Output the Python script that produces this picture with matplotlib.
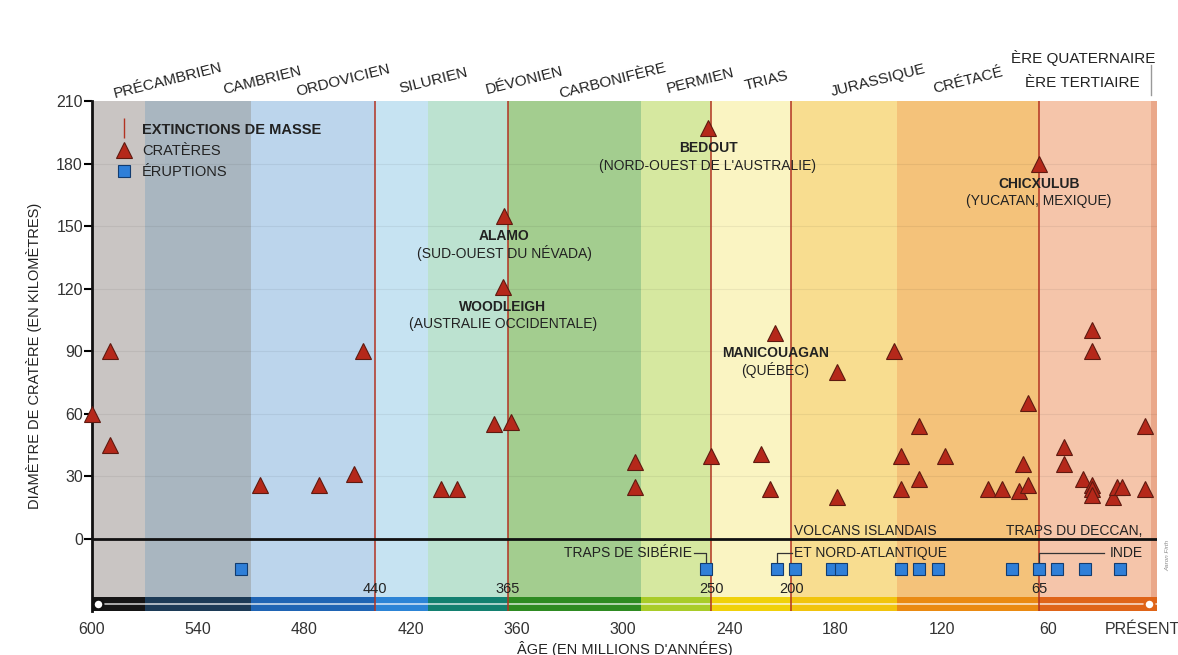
import matplotlib
matplotlib.use('Agg')
import numpy as np
import matplotlib.pyplot as plt
import matplotlib.transforms as mtransforms
from matplotlib.lines import Line2D

plt.rcParams['font.family'] = ['Liberation Sans', 'DejaVu Sans']

# --- data -------------------------------------------------------------------
period_names = ['PRÉCAMBRIEN', 'CAMBRIEN', 'ORDOVICIEN', 'SILURIEN', 'DÉVONIEN',
                'CARBONIFÈRE', 'PERMIEN', 'TRIAS', 'JURASSIQUE', 'CRÉTACÉ',
                'ÈRE TERTIAIRE', 'ÈRE QUATERNAIRE']
period_start = [600, 570, 510, 440, 410, 365, 290, 250, 205, 145, 65, 1.8]

extinction_ages = [440, 365, 250, 205, 65]
extinction_labels = ['440', '365', '250', '200', '65']

crater_age = [600, 590, 590, 505, 472, 452, 447, 403, 394, 373, 363, 367, 368,
              293, 293, 252, 250, 222, 217, 214, 179, 179, 147, 143, 143, 133,
              133, 118, 94, 86, 76, 74, 71, 71, 65, 51, 51, 40, 35, 35, 35, 35,
              35, 23, 21, 18, 5, 5]
crater_km = [60, 90, 45, 26, 26, 31, 90, 24, 24, 55, 56, 155, 121,
             37, 25, 197, 40, 41, 24, 99, 80, 20, 90, 40, 24, 54,
             29, 40, 24, 24, 23, 36, 26, 65, 180, 44, 36, 29, 100, 90, 26, 24,
             21, 20, 25, 25, 54, 24]

eruption_age = [516, 253, 213, 203, 182, 177, 143, 133, 122, 80, 65, 55, 39, 19]

named_age = [367, 368, 252, 214, 65]
named_km = [155, 121, 197, 99, 180]
named_title = ['ALAMO', 'WOODLEIGH', 'BEDOUT', 'MANICOUAGAN', 'CHICXULUB']
named_place = ['(SUD-OUEST DU NÉVADA)', '(AUSTRALIE OCCIDENTALE)',
               "(NORD-OUEST DE L'AUSTRALIE)", '(QUÉBEC)', '(YUCATAN, MEXIQUE)']

xtick_values = [600, 540, 480, 420, 360, 300, 240, 180, 120, 60, 0]
xtick_labels = ['600', '540', '480', '420', '360', '300', '240', '180', '120', '60', 'PRÉSENT']
ytick_values = [0, 30, 60, 90, 120, 150, 180, 210]

# --- styles -------------------------------------------------------------------
band_colors = ['#c9c5c3', '#a9b6c0', '#bcd5ec', '#c6e3f2', '#bce2d0', '#a3cd8f',
               '#d6e8a0', '#faf4c2', '#f8dd90', '#f4c27a', '#f5c5aa', '#eaa88a']
bar_colors = ['#151515', '#1c3a56', '#1f64b4', '#2c84d6', '#138070', '#2e8b22',
              '#a9cc28', '#f0d10a', '#f1c40c', '#ea8a12', '#df6418', '#df6418']
period_label_x = [557, 504, 458, 407, 356, 306, 256, 219, 156, 105]
txt = '#222222'
red = '#b23322'
X_LEFT, X_RIGHT = 600, -1.7
Y_BOTTOM, Y_TOP = -34.5, 210
BAR_LOW, BAR_HIGH = -34.5, -28.0
ERUPTION_ROW = -14.5
LABEL_ROW = -6.7

fig = plt.figure(figsize=(11.78, 6.55), dpi=100)
ax = fig.add_axes([92 / 1178, 1 - 611 / 655, 1065 / 1178, 510 / 655])
ax.set_xlim(X_LEFT, X_RIGHT)
ax.set_ylim(Y_BOTTOM, Y_TOP)

# period bands and the coloured time bar
ends = period_start[1:] + [X_RIGHT]
for start, end, bc, sc in zip(period_start, ends, band_colors, bar_colors):
    ax.axvspan(end, start, color=bc, lw=0, zorder=0)
    ax.barh((BAR_LOW + BAR_HIGH) / 2, start - end, left=end, height=BAR_HIGH - BAR_LOW,
            color=sc, lw=0, zorder=1)
ax.hlines((BAR_LOW + BAR_HIGH) / 2, X_LEFT, X_RIGHT, color='white', lw=1.2, alpha=0.75, zorder=1.5)
bt = mtransforms.blended_transform_factory(ax.transAxes, ax.transData)
ax.plot([0.006], [(BAR_LOW + BAR_HIGH) / 2], 'o', ms=7, mfc='white', mec='#111111', mew=1.6,
        transform=bt, zorder=5, clip_on=False)
ax.plot([0.9925], [(BAR_LOW + BAR_HIGH) / 2], 'o', ms=7, mfc='white', mec='#df6418', mew=1.6,
        transform=bt, zorder=5, clip_on=False)

# faint grid
ax.hlines(ytick_values[1:-1], X_LEFT, X_RIGHT, color='black', lw=0.8, alpha=0.06, zorder=0.5)

# mass extinctions
ax.vlines(extinction_ages, Y_BOTTOM, Y_TOP, color=red, lw=1.1, zorder=2)
for age, lab in zip(extinction_ages, extinction_labels):
    ax.text(age, -24, lab, ha='center', va='center', fontsize=10.5, color=txt, zorder=4)

ax.axhline(0, color='#111111', lw=2, zorder=2.5)

# markers
ax.plot(crater_age, crater_km, '^', ms=11.5, mfc='#b5281a', mec='#5e1a10', mew=0.8,
        ls='none', zorder=3, clip_on=False)
ax.plot(eruption_age, np.full(len(eruption_age), ERUPTION_ROW), 's', ms=9.3, mfc='#2f7fd8',
        mec='#123c70', mew=0.8, ls='none', zorder=3)

# named craters
for age, km, title, place in zip(named_age, named_km, named_title, named_place):
    ax.annotate(title, (age, km), xytext=(0, -14.5), textcoords='offset points',
                ha='center', va='center', fontsize=10, fontweight='bold', color=txt)
    ax.annotate(place, (age, km), xytext=(0, -27), textcoords='offset points',
                ha='center', va='center', fontsize=10, color=txt)

# eruption labels with leaders
lead = dict(color='#333333', lw=0.9, zorder=2.6)
sib, ice, dec = eruption_age[1], eruption_age[2], eruption_age[10]
ax.text(261, LABEL_ROW, 'TRAPS DE SIBÉRIE', ha='right', va='center', fontsize=10, color=txt)
ax.plot([260, sib, sib], [LABEL_ROW, LABEL_ROW, ERUPTION_ROW + 3.2], **lead)
ax.text(203.5, 4, 'VOLCANS ISLANDAIS', ha='left', va='center', fontsize=10, color=txt)
ax.text(203.5, LABEL_ROW, 'ET NORD-ATLANTIQUE', ha='left', va='center', fontsize=10, color=txt)
ax.plot([ice, ice, 204.5], [ERUPTION_ROW + 3.2, LABEL_ROW, LABEL_ROW], **lead)
ax.text(6.5, 4, 'TRAPS DU DECCAN,', ha='right', va='center', fontsize=10, color=txt)
ax.text(6.5, LABEL_ROW, 'INDE', ha='right', va='center', fontsize=10, color=txt)
ax.plot([dec, dec, 28], [ERUPTION_ROW + 3.2, LABEL_ROW, LABEL_ROW], **lead)

# period names above the chart
tt = mtransforms.blended_transform_factory(ax.transData, ax.transAxes)
for name, x in zip(period_names[:10], period_label_x):
    ax.text(x, 1.04, name, rotation=14, ha='center', va='center', fontsize=11,
            color=txt, transform=tt, rotation_mode='anchor')
ax.text(-0.5, 1.085, period_names[11], ha='right', va='center', fontsize=11, color=txt, transform=tt)
ax.text(8, 1.036, period_names[10], ha='right', va='center', fontsize=11, color=txt, transform=tt)
ax.plot([period_start[11], period_start[11]], [1.012, 1.07], color='#999999', lw=1,
        transform=tt, clip_on=False)

# legend
handles = [Line2D([], [], marker='|', ls='none', ms=14, mew=1, color=red),
           Line2D([], [], marker='^', ls='none', ms=11.5, mfc='#b5281a', mec='#5e1a10', mew=0.8),
           Line2D([], [], marker='s', ls='none', ms=9.3, mfc='#2f7fd8', mec='#123c70', mew=0.8)]
leg = ax.legend(handles, ['EXTINCTIONS DE MASSE', 'CRATÈRES', 'ÉRUPTIONS'], loc='upper left',
                bbox_to_anchor=(0.014, 0.975), frameon=False, fontsize=10.5, handlelength=1.2,
                handletextpad=0.6, labelspacing=0.5, borderaxespad=0.2)
for t in leg.get_texts():
    t.set_color(txt)
leg.get_texts()[0].set_fontweight('bold')

# axes
ax.set_xticks(xtick_values)
ax.set_xticklabels(xtick_labels)
ax.set_yticks(ytick_values)
ax.tick_params(axis='x', length=0, pad=8, labelsize=11.5, labelcolor='#333333')
ax.tick_params(axis='y', length=5.5, width=1.5, pad=1, labelsize=11.5, labelcolor='#333333')
last = ax.get_xticklabels()[-1]
last.set_transform(last.get_transform() + mtransforms.ScaledTranslation(-0.12, 0, fig.dpi_scale_trans))
for side in ['top', 'right', 'bottom']:
    ax.spines[side].set_visible(False)
ax.spines['left'].set_linewidth(2)
ax.spines['left'].set_color('#111111')
ax.set_ylabel('DIAMÈTRE DE CRATÈRE (EN KILOMÈTRES)', fontsize=10.5, color=txt, labelpad=10)
ax.set_xlabel("ÂGE (EN MILLIONS D'ANNÉES)", fontsize=10.5, color=txt, labelpad=3)

fig.text(1168 / 1178, 1 - 555 / 655, 'Aaron Firth', rotation=90, fontsize=4.5, style='italic',
         color='#888888', ha='center', va='center')

fig.savefig('out.png', dpi=100)
